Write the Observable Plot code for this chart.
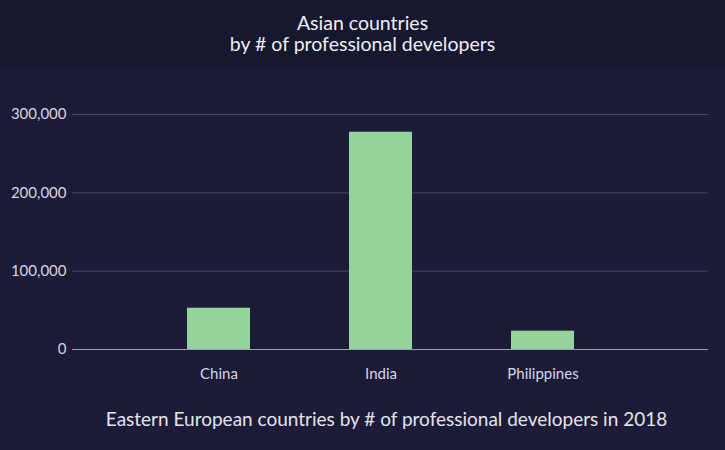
<!DOCTYPE html>
<html>
<head>
<meta charset="utf-8">
<script src="https://cdn.jsdelivr.net/npm/d3@7"></script>
<script src="https://cdn.jsdelivr.net/npm/@observablehq/plot@0.6"></script>
<style>
  html, body { margin: 0; padding: 0; }
  body { width: 725px; height: 450px; overflow: hidden; background: #1c1b38; font-family: Lato, "Open Sans", sans-serif; }
  #head { height: 68px; box-sizing: border-box; padding-top: 12px; background: #161830; color: #eeeef5; text-align: center; font-size: 19.5px; line-height: 21px; }
  #chart svg { display: block; }
  #caption { text-align: center; color: #e4e4ee; font-size: 19px; line-height: 24px; padding-top: 9px; padding-left: 48px; }
</style>
</head>
<body>
<div id="head">Asian countries<br>by # of professional developers</div>
<div id="chart"></div>
<div id="caption">Eastern European countries by # of professional developers in 2018</div>
<script>
const countries = ["China", "India", "Philippines"];
const developers = [52700, 277400, 23400];
const yTicks = [0, 100000, 200000, 300000];

const data = countries.map((c, i) => ({country: c, value: developers[i]}));

const chart = Plot.plot({
  width: 725,
  height: 330,
  marginTop: 46,
  marginBottom: 49,
  marginLeft: 72,
  marginRight: 17,
  style: { background: "transparent", color: "#d6d6e4", fontSize: "15px", fontFamily: "Lato, 'Open Sans', sans-serif" },
  x: { type: "band", domain: countries, range: [137.5, 623.5], paddingInner: 0.611, paddingOuter: 0.3055, label: null },
  y: { domain: [0, 300000], label: null },
  marks: [
    Plot.ruleY(yTicks.filter(d => d > 0), { stroke: "#47476c", strokeWidth: 1 }),
    Plot.barY(data, { x: "country", y: "value", fill: "#94d39c" }),
    Plot.ruleY([0], { stroke: "#9c9cba", strokeWidth: 1.2 }),
    Plot.axisY({ ticks: yTicks, tickFormat: d3.format(","), tickSize: 0, tickPadding: 6, label: null }),
    Plot.axisX({ tickSize: 0, tickPadding: 19, label: null })
  ]
});
document.getElementById("chart").appendChild(chart);
</script>
</body>
</html>
